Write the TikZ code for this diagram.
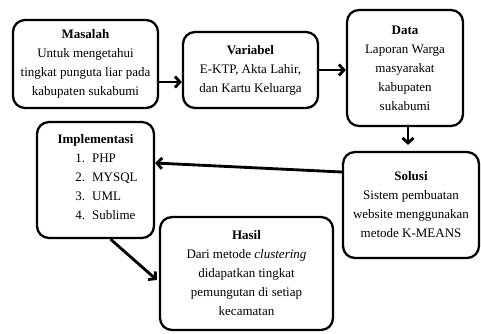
\documentclass[tikz,border=0pt]{standalone}
\usepackage{fontspec}
\setmainfont{Liberation Serif}
\usetikzlibrary{arrows.meta}

\begin{document}
\begin{tikzpicture}[x=1pt,y=-1pt,
  >={Straight Barb[length=5pt,width=11pt]},
  kotak/.style={draw=black, line width=0.08cm, rounded corners=12pt, align=center,
    font=\fontsize{13}{19}\selectfont, inner sep=0pt},
  panah/.style={black, line width=0.1cm, ->}]
\useasboundingbox (0,0) rectangle (481,333);

\node[kotak, minimum width=145pt, minimum height=88pt] (masalah) at (85.5,64)
  {\textbf{Masalah}\\Untuk mengetahui\\tingkat punguta liar pada\\kabupaten sukabumi};
\node[kotak, minimum width=135pt, minimum height=76pt] (variabel) at (250.5,70)
  {\textbf{Variabel}\\E-KTP, Akta Lahir,\\dan Kartu Keluarga};
\node[kotak, minimum width=116pt, minimum height=116pt] (data) at (405,68)
  {\textbf{Data}\\Laporan Warga\\masyarakat\\kabupaten\\sukabumi};
\node[kotak, minimum width=136pt, minimum height=106pt] (solusi) at (411,205)
  {\textbf{Solusi}\\Sistem pembuatan\\website menggunakan\\metode K-MEANS};
\node[kotak, minimum width=117pt, minimum height=116pt] (impl) at (95.5,180)
  {\textbf{Implementasi}\\\hspace*{22pt}\begin{tabular}[t]{@{}r@{\hspace{7pt}}l@{}}
   1. & PHP\\ 2. & MYSQL\\ 3. & UML\\ 4. & Sublime\end{tabular}};
\node[kotak, minimum width=173pt, minimum height=113pt] (hasil) at (246.5,273.5)
  {\textbf{Hasil}\\Dari metode \textit{clustering}\\didapatkan tingkat\\pemungutan di setiap\\kecamatan};

% panah
\coordinate (m1) at ([yshift=-18pt]masalah.east);
\draw[panah] (m1) -- (m1 -| variabel.west);
\draw[panah] (variabel.east) -- (variabel.east -| data.west);
\draw[panah] ([xshift=3pt]data.south) -- ([xshift=-3pt,yshift=6pt]solusi.north);
\draw[panah] ([yshift=33pt]solusi.west) -- ([yshift=17pt]impl.east);
\draw[panah] ([xshift=15pt]impl.south) -- ([xshift=-2pt,yshift=-6.5pt]hasil.west);

\end{tikzpicture}
\end{document}
